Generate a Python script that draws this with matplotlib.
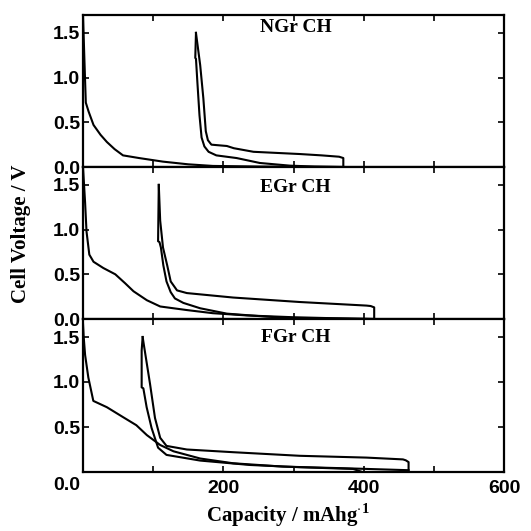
import matplotlib
matplotlib.use("Agg")
import matplotlib.pyplot as plt
from matplotlib.transforms import offset_copy

# ---------------- data (capacity mAh/g, voltage V) ----------------
panel_names = ["NGr CH", "EGr CH", "FGr CH"]

# NGr CH
ngr_d1_q = [0, 2, 4, 8, 15, 25, 34, 45, 57, 80, 114, 150, 185, 250, 371]
ngr_d1_v = [1.70, 1.20, 0.72, 0.62, 0.47, 0.36, 0.28, 0.20, 0.13, 0.10, 0.06, 0.03, 0.012, 0.005, 0.0]
ngr_c_q = [371, 371, 365, 340, 309, 243, 215, 205, 190, 183, 178, 175, 171.5, 167, 161]
ngr_c_v = [0.0, 0.10, 0.115, 0.13, 0.145, 0.17, 0.21, 0.235, 0.245, 0.25, 0.30, 0.40, 0.77, 1.14, 1.50]
ngr_d2_q = [161, 160, 161, 163, 166, 169, 173, 179, 190, 219, 252, 295, 330, 371]
ngr_d2_v = [1.50, 1.22, 1.21, 0.95, 0.58, 0.33, 0.23, 0.17, 0.13, 0.10, 0.045, 0.015, 0.005, 0.0]

# EGr CH
egr_d1_q = [0, 3, 5, 9, 15, 29, 46, 60, 72, 91, 110, 148, 185, 233, 299, 350, 415]
egr_d1_v = [1.70, 1.30, 0.98, 0.72, 0.64, 0.57, 0.50, 0.40, 0.31, 0.21, 0.14, 0.10, 0.065, 0.04, 0.02, 0.01, 0.0]
egr_c_q = [415, 415, 410, 404, 309, 214, 148, 134, 125, 120, 114, 110, 108]
egr_c_v = [0.0, 0.13, 0.145, 0.15, 0.19, 0.24, 0.29, 0.32, 0.42, 0.60, 0.80, 1.10, 1.50]
egr_d2_q = [108, 107, 109, 111, 114.5, 119, 125, 131, 143, 167, 205, 262, 300, 415]
egr_d2_v = [1.50, 0.87, 0.86, 0.80, 0.60, 0.42, 0.30, 0.23, 0.18, 0.12, 0.06, 0.026, 0.01, 0.0]

# FGr CH
fgr_d1_q = [0, 1, 3, 7.6, 14.7, 34, 57, 76, 91, 110, 129, 167, 214, 285, 380, 464]
fgr_d1_v = [1.65, 1.50, 1.30, 1.05, 0.79, 0.72, 0.61, 0.52, 0.41, 0.30, 0.23, 0.15, 0.097, 0.06, 0.04, 0.02]
fgr_c_q = [464, 464, 460, 456, 404, 309, 214, 148, 119, 110, 102.6, 95.5, 88, 85]
fgr_c_v = [0.0, 0.11, 0.13, 0.14, 0.16, 0.18, 0.22, 0.25, 0.29, 0.38, 0.60, 0.98, 1.35, 1.50]
fgr_d2_q = [85, 83.6, 83.6, 86, 90.7, 97.7, 107, 119, 167, 238, 309, 385, 398]
fgr_d2_v = [1.50, 1.35, 0.94, 0.93, 0.72, 0.49, 0.27, 0.19, 0.127, 0.078, 0.053, 0.034, 0.0]

curves = [
    [(ngr_d1_q, ngr_d1_v), (ngr_c_q, ngr_c_v), (ngr_d2_q, ngr_d2_v)],
    [(egr_d1_q, egr_d1_v), (egr_c_q, egr_c_v), (egr_d2_q, egr_d2_v)],
    [(fgr_d1_q, fgr_d1_v), (fgr_c_q, fgr_c_v), (fgr_d2_q, fgr_d2_v)],
]
label_pos = [(303, 1.56), (303, 1.47), (303, 1.50)]

x_ticks = [0, 100, 200, 300, 400, 500, 600]
x_ticklabels = ["", "", "200", "", "400", "", "600"]
y_ticks = [0.0, 0.5, 1.0, 1.5]

# ---------------- figure ----------------
W = H = 531
plt.rcParams["mathtext.fontset"] = "custom"
plt.rcParams["mathtext.rm"] = "Liberation Serif:bold"
plt.rcParams["mathtext.bf"] = "Liberation Serif:bold"

fig = plt.figure(figsize=(W / 100, H / 100), dpi=100)

left = 83 / W
width = (504 - 83) / W
tops = [15, 167, 319]
bottoms = [167, 319, 472]

serif = dict(family="Liberation Serif", weight="bold")
tickfont = dict(family="Liberation Sans", weight="bold")

axes = []
for i in range(3):
    b = 1 - bottoms[i] / H
    h = (bottoms[i] - tops[i]) / H
    ax = fig.add_axes([left, b, width, h])
    axes.append(ax)
    for q, v in curves[i]:
        ax.plot(q, v, color="black", lw=1.5, solid_joinstyle="round")
    ax.set_xlim(0, 600)
    ax.set_ylim(0, 1.7)
    ax.set_xticks(x_ticks)
    ax.set_yticks(y_ticks)
    ax.tick_params(direction="in", length=4, width=1.2, top=True, right=True,
                   labelsize=14, pad=2)
    for s in ax.spines.values():
        s.set_linewidth(1.6)
    ax.text(label_pos[i][0], label_pos[i][1], panel_names[i], ha="center",
            va="center", fontsize=14, **serif)
    if i < 2:
        ax.set_xticklabels([])
    else:
        ax.set_xticklabels(x_ticklabels)
        ax.tick_params(axis="x", pad=6)
        ax.set_yticklabels(["", "0.5", "1.0", "1.5"])
        tr = offset_copy(ax.transAxes, fig=fig, x=-3, y=-13, units="dots")
        ax.text(0, 0, "0.0", transform=tr, ha="right", va="center",
                fontsize=14, **tickfont)
    for lab in ax.get_yticklabels() + ax.get_xticklabels():
        lab.set_fontfamily(tickfont["family"])
        lab.set_fontweight("bold")

fig.text(21 / W, 1 - 234 / H, "Cell Voltage / V", rotation=90, ha="center",
         va="center", fontsize=15, **serif)
fig.text(288 / W, 1 - 515 / H, r"Capacity / mAhg$^{\cdot 1}$", ha="center",
         va="center", fontsize=15, **serif)

fig.savefig("out.png", dpi=100)
